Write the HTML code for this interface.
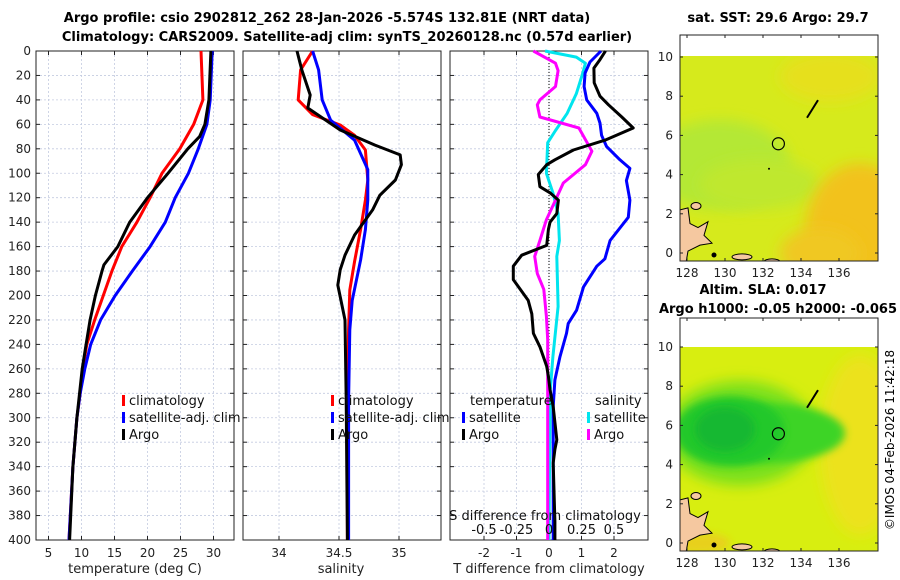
<!DOCTYPE html>
<html><head><meta charset="utf-8"><style>
body{margin:0;background:#fff;}
svg{display:block;font-family:"DejaVu Sans","Liberation Sans",sans-serif;}
</style></head><body>
<svg id="fig" width="900" height="580" viewBox="0 0 900 580">
<defs>
<filter id="blur6" x="-50%" y="-50%" width="200%" height="200%"><feGaussianBlur stdDeviation="7"/></filter>
<filter id="blur3" x="-50%" y="-50%" width="200%" height="200%"><feGaussianBlur stdDeviation="4"/></filter>
<clipPath id="m1clip"><rect x="680" y="56" width="198" height="205"/></clipPath>
<clipPath id="m2clip"><rect x="680" y="347" width="198" height="204"/></clipPath>
</defs>
<text x="327" y="22" font-size="13" font-weight="bold" text-anchor="middle">Argo profile: csio 2902812_262 28-Jan-2026 -5.574S 132.81E (NRT data)</text>
<text x="347" y="41" font-size="13" font-weight="bold" text-anchor="middle">Climatology: CARS2009. Satellite-adj clim: synTS_20260128.nc (0.57d earlier)</text>
<g id="maps"></g>
<g id="panels"></g>
<text transform="translate(894,440) rotate(-90)" font-size="12" text-anchor="middle">©IMOS 04-Feb-2026 11:42:18</text>
</svg>
<script>
// ---- data ----
const tDepRed=[0,40,60,80,100,120,140,160,180,200,220,240,260,280,300,340,400];
const tempClim=[28.1,28.4,27.0,24.9,22.2,20.4,18.4,16.1,14.6,13.3,12.0,10.8,10.2,9.8,9.3,8.7,8.1];
const tempSat=[29.8,29.5,29.0,27.7,26.2,24.2,22.7,20.4,17.7,15.1,12.9,11.4,10.5,9.8,9.3,8.7,8.1];
const tDepArgo=[0,40,60,70,80,100,120,140,160,175,180,200,220,240,260,300,340,400];
const tempArgo=[29.6,29.3,28.7,27.9,26.1,23.1,20.0,17.3,15.5,13.4,13.1,12.1,11.3,10.7,10.1,9.3,8.7,8.2];
const sDepClim=[0,15.5,40,52,60.5,69,81,105.5,122,146,172,195.5,228,285.5,400];
const salClim=[34.28,34.18,34.16,34.28,34.51,34.63,34.72,34.74,34.72,34.68,34.63,34.59,34.58,34.57,34.57];
const sDepSat=[0,15.5,40,56.5,73,97,122,146,171,204,228,285.5,400];
const salSat=[34.28,34.33,34.36,34.43,34.63,34.74,34.74,34.72,34.68,34.61,34.59,34.58,34.58];
const sDepArgo=[0,15.5,36,46.6,64.6,77,85,93,105.5,118,130,150.5,167,179,191.5,220,285.5,400];
const salArgo=[34.15,34.19,34.26,34.24,34.51,34.8,35.01,35.02,34.97,34.84,34.78,34.63,34.55,34.51,34.49,34.55,34.56,34.57];
const dDepTA=[0,7,14,26,37,44,54,63,73,81,89,93,101,111,116,122,133,140,146,159,167,176,187,204,215,231,242,258,266,277,291,318,326,337,385,400];
const dTempArgo=[1.74,1.57,1.38,1.39,1.57,1.83,2.24,2.59,1.72,0.75,0.18,-0.07,-0.33,-0.28,0.03,0.29,0.24,0.03,-0.02,-0.07,-0.84,-1.10,-1.10,-0.64,-0.53,-0.48,-0.28,-0.07,-0.02,0.03,0.13,0.24,0.18,0.13,0.18,0.18];
const dDepTS=[0,9,18,29,40,51,59,69,78,89,96,106,122,136,155,170,176,193,212,223,231,250,269,291,385,400];
const dTempSat=[1.6,1.26,1.11,1.08,1.16,1.47,1.57,1.62,1.77,2.18,2.49,2.38,2.49,2.44,1.88,1.72,1.47,1.06,0.85,0.59,0.54,0.34,0.18,0.13,0.13,0.13];
const dDepSS=[0,5,10,18,35,51,65,75,100,116,133,155,168,209,250,277,385,400];
const dSalSat=[-0.03,0.21,0.28,0.26,0.21,0.14,0.05,-0.01,-0.02,0.03,0.07,0.08,0.06,0.07,0.03,0.01,0,0];
const dDepSA=[0,10,16,29,40,44,54,63,82,93,108,122,138,155,168,182,195,217,236,277,385,400];
const dSalArgo=[-0.12,0.05,0.07,0.05,-0.07,-0.09,-0.07,0.23,0.33,0.28,0.11,0.05,-0.02,-0.07,-0.11,-0.09,-0.04,-0.02,-0.01,-0.01,-0.01,-0.01];
const depthTicks=[0,20,40,60,80,100,120,140,160,180,200,220,240,260,280,300,320,340,360,380,400];
const tempTicks=[5,10,15,20,25,30];
const salTicks=[34,34.5,35];
const dTTicks=[-2,-1,0,1,2];
const dSTicks=[-0.5,-0.25,0,0.25,0.5];
const lonTicks=[128,130,132,134,136];
const latTicks=[0,2,4,6,8,10];

const NS='http://www.w3.org/2000/svg';
function mk(tag,attrs,parent,txt){const e=document.createElementNS(NS,tag);for(const k in attrs)e.setAttribute(k,attrs[k]);if(txt!==undefined)e.textContent=txt;parent.appendChild(e);return e;}
const P=document.getElementById('panels');
const top0=51,bot=540;
function yD(d){return top0+(bot-top0)*d/400;}
function xT(v){return 48.5+(v-5)*6.6;}
function xS(v){return 279+(v-34)*120;}
function xDT(v){return 549+v*32.5;}
function xDS(v){return 549+v*130;}

function frame(x0,x1,name,ticksX,fx,showY){
  const g=mk('g',{},P);
  
  
  depthTicks.forEach(d=>{mk('line',{x1:x0,x2:x1,y1:yD(d),y2:yD(d),stroke:'#c4cbe0','stroke-width':0.8,'stroke-dasharray':'2,2'},g);
    mk('line',{x1:x0,x2:x0+4,y1:yD(d),y2:yD(d),stroke:'#222'},g);mk('line',{x1:x1-4,x2:x1,y1:yD(d),y2:yD(d),stroke:'#222'},g);
    if(showY){const t=mk('text',{x:x0-5,y:yD(d)+4,'font-size':12,'text-anchor':'end',fill:'#222'},g,String(d));
      
      }});
  ticksX.forEach(v=>{const x=fx(v);mk('line',{x1:x,x2:x,y1:top0,y2:bot,stroke:'#c4cbe0','stroke-width':0.8,'stroke-dasharray':'2,2'},g);
    mk('line',{x1:x,x2:x,y1:bot-4,y2:bot,stroke:'#222'},g);mk('line',{x1:x,x2:x,y1:top0,y2:top0+4,stroke:'#222'},g);
    const t=mk('text',{x:x,y:557,'font-size':12,'text-anchor':'middle',fill:'#222'},g,String(v));
    
    });
  mk('rect',{x:x0,y:top0,width:x1-x0,height:bot-top0,fill:'none',stroke:'#222','stroke-width':1},g);
  return g;
}
function line(g,deps,vals,fx,color,name){
  const pts=deps.map((d,i)=>fx(vals[i]).toFixed(1)+','+yD(d).toFixed(1)).join(' ');
  const p=mk('polyline',{points:pts,fill:'none',stroke:color,'stroke-width':3,'stroke-linejoin':'round'},g);
  
  
}
function legend(g,x,y,color,label){
  mk('rect',{x:x,y:y-10,width:3,height:11,fill:color},g);
  const t=mk('text',{x:x+7,y:y,'font-size':13,fill:'#111'},g,label);
  
  
}
// panel 1
const g1=frame(36,234,'temperature-panel',tempTicks,xT,true);
line(g1,tDepRed,tempClim,xT,'#ff0000','temp-climatology-line');
line(g1,tDepRed,tempSat,xT,'#0000ff','temp-satellite-line');
line(g1,tDepArgo,tempArgo,xT,'#000000','temp-argo-line');
legend(g1,122,405,'#ff0000','climatology');legend(g1,122,422,'#0000ff','satellite-adj. clim');legend(g1,122,439,'#000','Argo');
let t=mk('text',{x:135,y:573,'font-size':13,'text-anchor':'middle',fill:'#222'},g1,'temperature (deg C)');


// panel 2
const g2=frame(243,441,'salinity-panel',salTicks,xS,false);
line(g2,sDepClim,salClim,xS,'#ff0000','sal-climatology-line');
line(g2,sDepSat,salSat,xS,'#0000ff','sal-satellite-line');
line(g2,sDepArgo,salArgo,xS,'#000000','sal-argo-line');
legend(g2,331,405,'#ff0000','climatology');legend(g2,331,422,'#0000ff','satellite-adj. clim');legend(g2,331,439,'#000','Argo');
t=mk('text',{x:341,y:573,'font-size':13,'text-anchor':'middle',fill:'#222'},g2,'salinity');


// panel 3
const g3=frame(450,648,'difference-panel',dTTicks,xDT,false);
mk('line',{x1:549,x2:549,y1:top0,y2:bot,stroke:'#000','stroke-width':1,'stroke-dasharray':'1,2'},g3);
line(g3,dDepSS,dSalSat,xDS,'#00e5ee','sal-diff-satellite-line');
line(g3,dDepSA,dSalArgo,xDS,'#ff00ff','sal-diff-argo-line');
line(g3,dDepTS,dTempSat,xDT,'#0000ff','temp-diff-satellite-line');
line(g3,dDepTA,dTempArgo,xDT,'#000000','temp-diff-argo-line');
t=mk('text',{x:470,y:405,'font-size':13,fill:'#111'},g3,'temperature');


t=mk('text',{x:595,y:405,'font-size':13,fill:'#111'},g3,'salinity');


legend(g3,462,422,'#0000ff','satellite');legend(g3,462,439,'#000','Argo');
legend(g3,587,422,'#00e5ee','satellite');legend(g3,587,439,'#ff00ff','Argo');
t=mk('text',{x:545,y:520,'font-size':13,'text-anchor':'middle',fill:'#111'},g3,'S difference from climatology');


dSTicks.forEach(v=>{const tt=mk('text',{x:xDS(v),y:534,'font-size':13,'text-anchor':'middle',fill:'#111'},g3,String(v).replace('0.','.').replace('-.','-0.').replace(/^\./,'0.'));
  
  });
t=mk('text',{x:549,y:573,'font-size':13,'text-anchor':'middle',fill:'#222'},g3,'T difference from climatology');



// ---- maps ----
const M=document.getElementById('maps');
function lonX(l){return 687+(l-128)*19;}
function map(yTop,yData,yBot,lat0y,title,titles,kind){
  const g=mk('g',{},M);
  
  
  const latY=l=>lat0y-l*19.6;
  const cg=mk('g',{'clip-path':'url(#'+(kind==='sst'?'m1clip':'m2clip')+')'},g);
  if(kind==='sst'){
    mk('rect',{x:680,y:yData,width:198,height:yBot-yData,fill:'#d6ea1c'},cg);
    mk('ellipse',{cx:720,cy:latY(4.5),rx:70,ry:45,fill:'#b4e836',filter:'url(#blur6)'},cg);
    mk('ellipse',{cx:760,cy:latY(3.5),rx:60,ry:25,fill:'#bfe82e',filter:'url(#blur6)'},cg);
    mk('ellipse',{cx:860,cy:latY(1),rx:55,ry:70,fill:'#f2c21c',filter:'url(#blur6)'},cg);
    mk('ellipse',{cx:820,cy:latY(0),rx:40,ry:25,fill:'#f0c820',filter:'url(#blur6)'},cg);
    mk('ellipse',{cx:830,cy:latY(9),rx:50,ry:25,fill:'#e6e01c',filter:'url(#blur6)'},cg);
  } else {
    mk('rect',{x:680,y:yData,width:198,height:yBot-yData,fill:'#d8ee10'},cg);
    mk('ellipse',{cx:860,cy:latY(5),rx:40,ry:90,fill:'#ece21a',filter:'url(#blur6)'},cg);
    mk('ellipse',{cx:740,cy:latY(5.6),rx:75,ry:52,fill:'#78e01a',filter:'url(#blur6)'},cg);
    mk('ellipse',{cx:765,cy:latY(5.6),rx:80,ry:30,fill:'#3cd428',filter:'url(#blur3)'},cg);
    mk('ellipse',{cx:730,cy:latY(5.7),rx:55,ry:35,fill:'#22c82c',filter:'url(#blur3)'},cg);
    mk('ellipse',{cx:725,cy:latY(5.8),rx:30,ry:22,fill:'#18b830',filter:'url(#blur3)'},cg);
    mk('ellipse',{cx:700,cy:latY(0),rx:30,ry:10,fill:'#e8d01a',filter:'url(#blur3)'},cg);
  }
  // land
  const land=[[680,latY(2.2)],[688,latY(2.3)],[690,latY(1.5)],[698,latY(1.3)],[708,latY(1.6)],[704,latY(0.9)],[712,latY(0.5)],[700,latY(0.4)],[688,latY(0.1)],[686,latY(-0.5)],[680,latY(-0.5)]];
  const lp=mk('polygon',{points:land.map(p=>p.join(',')).join(' '),fill:'#f5c8a0',stroke:'#000','stroke-width':1},cg);
  
  
  mk('ellipse',{cx:696,cy:latY(2.4),rx:5,ry:3.5,fill:'#f5c8a0',stroke:'#000'},cg);
  mk('ellipse',{cx:742,cy:latY(-0.2),rx:10,ry:3,fill:'#f5c8a0',stroke:'#000'},cg);
  mk('ellipse',{cx:772,cy:latY(-0.45),rx:8,ry:3,fill:'#f5c8a0',stroke:'#000'},cg);
  mk('circle',{cx:714,cy:latY(-0.1),r:2.5,fill:'#000'},cg);
  mk('line',{x1:807,y1:latY(6.9),x2:818,y2:latY(7.8),stroke:'#000','stroke-width':2},cg);
  mk('circle',{cx:769,cy:latY(4.3),r:1,fill:'#000'},cg);
  const c=mk('circle',{cx:lonX(132.81),cy:latY(5.574),r:6,fill:'none',stroke:'#000','stroke-width':1.2},cg);
  
  
  mk('rect',{x:680,y:yTop,width:198,height:yBot-yTop,fill:'none',stroke:'#222'},g);
  lonTicks.forEach(l=>{const x=lonX(l);mk('line',{x1:x,x2:x,y1:yBot-3,y2:yBot,stroke:'#222'},g);mk('line',{x1:x,x2:x,y1:yTop,y2:yTop+3,stroke:'#222'},g);
    const tt=mk('text',{x:x,y:yBot+16,'font-size':12,'text-anchor':'middle',fill:'#222'},g,String(l));
    
    });
  latTicks.forEach(l=>{const y=latY(l);mk('line',{x1:680,x2:683,y1:y,y2:y,stroke:'#222'},g);mk('line',{x1:875,x2:878,y1:y,y2:y,stroke:'#222'},g);
    const tt=mk('text',{x:673,y:y+4,'font-size':12,'text-anchor':'end',fill:'#222'},g,String(l));
    
    });
  titles.forEach((s,i)=>{const tt=mk('text',{x:s[1],y:s[2],'font-size':13,'font-weight':'bold','text-anchor':'middle'},g,s[0]);
    
    });
}
map(35,56,261,253,'',[['sat. SST: 29.6 Argo: 29.7',778,22]],'sst');
map(318,347,551,543,'',[['Altim. SLA: 0.017',763,294],['Argo h1000: -0.05 h2000: -0.065',778,313]],'sla');
</script>
</body></html>
